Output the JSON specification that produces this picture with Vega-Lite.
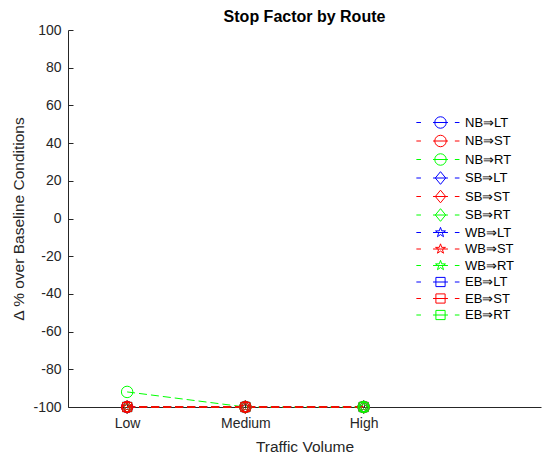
{
  "$schema": "https://vega.github.io/schema/vega-lite/v6.json",
  "width": 473,
  "height": 377,
  "autosize": {"type": "none"},
  "padding": {"left": 68, "top": 30, "right": 2, "bottom": 46},
  "title": {"text": "Stop Factor by Route", "font": "Liberation Sans", "fontSize": 16, "fontWeight": "bold", "color": "#000000", "offset": -2},
  "config": {
    "view": {"stroke": null},
    "axis": {
      "domainColor": "#262626", "tickColor": "#262626", "labelColor": "#262626", "titleColor": "#262626",
      "labelFont": "Liberation Sans", "titleFont": "Liberation Sans", "labelFontSize": 14, "titleFontSize": 15.5,
      "titleFontWeight": "normal", "grid": false, "tickSize": -5, "labelPadding": 12, "domainWidth": 1, "tickWidth": 1
    }
  },
  "data": {"values": [
    {"series": "NB⇒LT", "level": 1, "value": -100}, {"series": "SB⇒LT", "level": 1, "value": -100}, {"series": "WB⇒LT", "level": 1, "value": -100}, {"series": "EB⇒LT", "level": 1, "value": -100},
    {"series": "NB⇒RT", "level": 1, "value": -92}, {"series": "SB⇒RT", "level": 1, "value": -100}, {"series": "WB⇒RT", "level": 1, "value": -100}, {"series": "EB⇒RT", "level": 1, "value": -100},
    {"series": "NB⇒ST", "level": 1, "value": -100}, {"series": "SB⇒ST", "level": 1, "value": -100}, {"series": "WB⇒ST", "level": 1, "value": -100}, {"series": "EB⇒ST", "level": 1, "value": -100},
    {"series": "NB⇒LT", "level": 2, "value": -100}, {"series": "SB⇒LT", "level": 2, "value": -100}, {"series": "WB⇒LT", "level": 2, "value": -100}, {"series": "EB⇒LT", "level": 2, "value": -100},
    {"series": "NB⇒RT", "level": 2, "value": -100}, {"series": "SB⇒RT", "level": 2, "value": -100}, {"series": "WB⇒RT", "level": 2, "value": -100}, {"series": "EB⇒RT", "level": 2, "value": -100},
    {"series": "NB⇒ST", "level": 2, "value": -100}, {"series": "SB⇒ST", "level": 2, "value": -100}, {"series": "WB⇒ST", "level": 2, "value": -100}, {"series": "EB⇒ST", "level": 2, "value": -100},
    {"series": "NB⇒LT", "level": 3, "value": -100}, {"series": "SB⇒LT", "level": 3, "value": -100}, {"series": "WB⇒LT", "level": 3, "value": -100}, {"series": "EB⇒LT", "level": 3, "value": -100},
    {"series": "NB⇒ST", "level": 3, "value": -100}, {"series": "SB⇒ST", "level": 3, "value": -100}, {"series": "WB⇒ST", "level": 3, "value": -100}, {"series": "EB⇒ST", "level": 3, "value": -100},
    {"series": "NB⇒RT", "level": 3, "value": -100}, {"series": "SB⇒RT", "level": 3, "value": -100}, {"series": "WB⇒RT", "level": 3, "value": -100}, {"series": "EB⇒RT", "level": 3, "value": -100}
  ]},
  "encoding": {
    "x": {"field": "level", "type": "quantitative", "scale": {"domain": [0.5, 4.5]},
      "axis": {"title": "Traffic Volume", "values": [1, 2, 3], "labelExpr": "datum.value == 1 ? 'Low' : datum.value == 2 ? 'Medium' : 'High'", "labelPadding": 14, "titlePadding": 9}},
    "y": {"field": "value", "type": "quantitative", "scale": {"domain": [-100, 100]},
      "axis": {"title": "Δ % over Baseline Conditions", "values": [-100, -80, -60, -40, -20, 0, 20, 40, 60, 80, 100], "labelExpr": "'' + datum.value", "titlePadding": 6}}
  },
  "layer": [
    {
      "mark": {"type": "line", "strokeDash": [8, 4], "strokeWidth": 1},
      "encoding": {
        "color": {"field": "series", "type": "nominal", "legend": null,
          "scale": {"domain": ["NB⇒LT","NB⇒ST","NB⇒RT","SB⇒LT","SB⇒ST","SB⇒RT","WB⇒LT","WB⇒ST","WB⇒RT","EB⇒LT","EB⇒ST","EB⇒RT"],
            "range": ["#0000ff","#ff0000","#00ff00","#0000ff","#ff0000","#00ff00","#0000ff","#ff0000","#00ff00","#0000ff","#ff0000","#00ff00"]}},
        "detail": {"field": "series"}
      }
    },
    {
      "mark": {"type": "point", "filled": false, "size": 132, "strokeWidth": 1, "opacity": 1},
      "encoding": {
        "color": {"field": "series", "type": "nominal", "legend": null,
          "scale": {"domain": ["NB⇒LT","NB⇒ST","NB⇒RT","SB⇒LT","SB⇒ST","SB⇒RT","WB⇒LT","WB⇒ST","WB⇒RT","EB⇒LT","EB⇒ST","EB⇒RT"],
            "range": ["#0000ff","#ff0000","#00ff00","#0000ff","#ff0000","#00ff00","#0000ff","#ff0000","#00ff00","#0000ff","#ff0000","#00ff00"]}},
        "shape": {"field": "series", "type": "nominal", "legend": null,
          "scale": {"domain": ["NB⇒LT","NB⇒ST","NB⇒RT","SB⇒LT","SB⇒ST","SB⇒RT","WB⇒LT","WB⇒ST","WB⇒RT","EB⇒LT","EB⇒ST","EB⇒RT"],
            "range": [
              "M-1,0A1,1,0,1,0,1,0A1,1,0,1,0,-1,0Z","M-1,0A1,1,0,1,0,1,0A1,1,0,1,0,-1,0Z","M-1,0A1,1,0,1,0,1,0A1,1,0,1,0,-1,0Z",
              "M0,-1.1L0.9,0L0,1.1L-0.9,0Z","M0,-1.1L0.9,0L0,1.1L-0.9,0Z","M0,-1.1L0.9,0L0,1.1L-0.9,0Z",
              "M0,-0.9L0.21,-0.29L0.86,-0.28L0.34,0.11L0.53,0.73L0,0.36L-0.53,0.73L-0.34,0.11L-0.86,-0.28L-0.21,-0.29Z","M0,-0.9L0.21,-0.29L0.86,-0.28L0.34,0.11L0.53,0.73L0,0.36L-0.53,0.73L-0.34,0.11L-0.86,-0.28L-0.21,-0.29Z","M0,-0.9L0.21,-0.29L0.86,-0.28L0.34,0.11L0.53,0.73L0,0.36L-0.53,0.73L-0.34,0.11L-0.86,-0.28L-0.21,-0.29Z",
              "M-0.8,-0.8H0.8V0.8H-0.8Z","M-0.8,-0.8H0.8V0.8H-0.8Z","M-0.8,-0.8H0.8V0.8H-0.8Z"]}}
      }
    },
    {
      "mark": {"type": "point", "filled": false, "size": 132, "strokeWidth": 1, "opacity": 0},
      "encoding": {
        "color": {"field": "series", "type": "nominal",
          "scale": {"domain": ["NB⇒LT","NB⇒ST","NB⇒RT","SB⇒LT","SB⇒ST","SB⇒RT","WB⇒LT","WB⇒ST","WB⇒RT","EB⇒LT","EB⇒ST","EB⇒RT"],
            "range": ["#0000ff","#ff0000","#00ff00","#0000ff","#ff0000","#00ff00","#0000ff","#ff0000","#00ff00","#0000ff","#ff0000","#00ff00"]},
          "legend": {"orient": "none", "legendX": 366, "legendY": 86, "title": null, "padding": 0, "symbolOpacity": 1, "labelOffset": 18, "rowPadding": 1.5,
            "labelFont": "Liberation Sans", "labelFontSize": 13, "labelColor": "#000000", "symbolSize": 132, "symbolStrokeWidth": 1}},
        "shape": {"field": "series", "type": "nominal",
          "scale": {"domain": ["NB⇒LT","NB⇒ST","NB⇒RT","SB⇒LT","SB⇒ST","SB⇒RT","WB⇒LT","WB⇒ST","WB⇒RT","EB⇒LT","EB⇒ST","EB⇒RT"],
            "range": [
              "M-4.2,0H-3.4M-1.3,0H1.3M2.5,0H3.3M-1,0A1,1,0,1,0,1,0A1,1,0,1,0,-1,0Z","M-4.2,0H-3.4M-1.3,0H1.3M2.5,0H3.3M-1,0A1,1,0,1,0,1,0A1,1,0,1,0,-1,0Z","M-4.2,0H-3.4M-1.3,0H1.3M2.5,0H3.3M-1,0A1,1,0,1,0,1,0A1,1,0,1,0,-1,0Z",
              "M-4.2,0H-3.4M-1.3,0H1.3M2.5,0H3.3M0,-1.1L0.9,0L0,1.1L-0.9,0Z","M-4.2,0H-3.4M-1.3,0H1.3M2.5,0H3.3M0,-1.1L0.9,0L0,1.1L-0.9,0Z","M-4.2,0H-3.4M-1.3,0H1.3M2.5,0H3.3M0,-1.1L0.9,0L0,1.1L-0.9,0Z",
              "M-4.2,0H-3.4M-1.3,0H1.3M2.5,0H3.3M0,-0.9L0.21,-0.29L0.86,-0.28L0.34,0.11L0.53,0.73L0,0.36L-0.53,0.73L-0.34,0.11L-0.86,-0.28L-0.21,-0.29Z","M-4.2,0H-3.4M-1.3,0H1.3M2.5,0H3.3M0,-0.9L0.21,-0.29L0.86,-0.28L0.34,0.11L0.53,0.73L0,0.36L-0.53,0.73L-0.34,0.11L-0.86,-0.28L-0.21,-0.29Z","M-4.2,0H-3.4M-1.3,0H1.3M2.5,0H3.3M0,-0.9L0.21,-0.29L0.86,-0.28L0.34,0.11L0.53,0.73L0,0.36L-0.53,0.73L-0.34,0.11L-0.86,-0.28L-0.21,-0.29Z",
              "M-4.2,0H-3.4M-1.3,0H1.3M2.5,0H3.3M-0.8,-0.8H0.8V0.8H-0.8Z","M-4.2,0H-3.4M-1.3,0H1.3M2.5,0H3.3M-0.8,-0.8H0.8V0.8H-0.8Z","M-4.2,0H-3.4M-1.3,0H1.3M2.5,0H3.3M-0.8,-0.8H0.8V0.8H-0.8Z"]},
          "legend": {"orient": "none", "legendX": 366, "legendY": 86, "title": null, "padding": 0, "symbolOpacity": 1, "labelOffset": 18, "rowPadding": 1.5,
            "labelFont": "Liberation Sans", "labelFontSize": 13, "labelColor": "#000000", "symbolSize": 132, "symbolStrokeWidth": 1}}
      }
    }
  ],
  "resolve": {"scale": {"shape": "independent", "color": "independent"}}
}
